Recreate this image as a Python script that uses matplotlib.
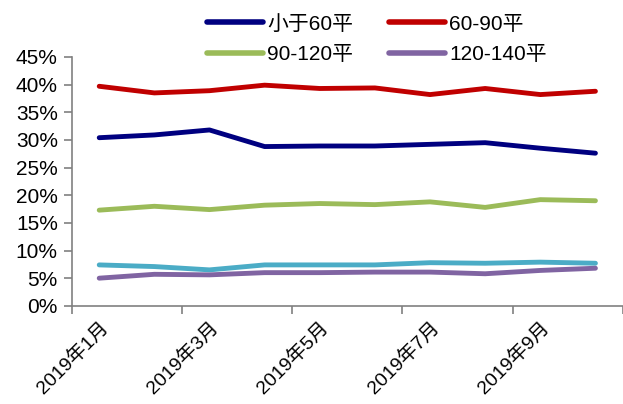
import matplotlib.pyplot as plt
from matplotlib.ticker import FixedLocator, FuncFormatter

plt.rcParams['font.family'] = ['Liberation Sans', 'Noto Sans CJK SC', 'DejaVu Sans']

months = ['2019年1月', '2019年2月', '2019年3月', '2019年4月', '2019年5月',
          '2019年6月', '2019年7月', '2019年8月', '2019年9月', '2019年10月']

below_60 = [30.4, 30.9, 31.8, 28.8, 28.9, 28.9, 29.2, 29.5, 28.5, 27.6]
from_60_90 = [39.7, 38.5, 38.9, 39.9, 39.3, 39.4, 38.2, 39.3, 38.2, 38.8]
from_90_120 = [17.3, 18.0, 17.4, 18.2, 18.5, 18.3, 18.8, 17.8, 19.2, 19.0]
from_120_140 = [5.0, 5.7, 5.6, 6.0, 6.0, 6.1, 6.1, 5.8, 6.4, 6.8]
above_140 = [7.4, 7.1, 6.5, 7.4, 7.4, 7.4, 7.8, 7.7, 7.9, 7.7]

fig = plt.figure(figsize=(6.23, 4.04), dpi=100)
ax = fig.add_axes([0.115, 0.243, 0.885, 0.616])

x = range(len(months))
lw = 3.5
l1, = ax.plot(x, below_60, color='#000080', lw=lw, label='小于60平', solid_capstyle='round')
l2, = ax.plot(x, from_60_90, color='#C00000', lw=lw, label='60-90平', solid_capstyle='round')
l3, = ax.plot(x, from_90_120, color='#9BBB59', lw=lw, label='90-120平', solid_capstyle='round')
l5, = ax.plot(x, above_140, color='#4BACC6', lw=lw, label='140平以上', solid_capstyle='round')
l4, = ax.plot(x, from_120_140, color='#8064A2', lw=lw, label='120-140平', solid_capstyle='round')

ax.set_xlim(-0.5, len(months) - 0.5)
ax.set_ylim(0, 45)
ax.set_yticks(range(0, 50, 5))
ax.yaxis.set_major_formatter(FuncFormatter(lambda v, _: f'{v:.0f}%'))

# boundary ticks every two months, labels at the month centres
ax.xaxis.set_major_locator(FixedLocator([-0.5, 1.5, 3.5, 5.5, 7.5, 9.5]))
ax.xaxis.set_major_formatter(FuncFormatter(lambda v, _: ''))
ax.xaxis.set_minor_locator(FixedLocator([0, 2, 4, 6, 8]))
ax.set_xticklabels([months[i] for i in (0, 2, 4, 6, 8)], minor=True,
                   rotation=45, ha='right', rotation_mode='anchor')
ax.tick_params(axis='x', which='minor', length=0, pad=9, labelsize=14)
ax.tick_params(axis='x', which='major', length=6, color='#808080', width=1.2)
ax.tick_params(axis='y', length=6, color='#808080', width=1.2, labelsize=15, pad=4)

for side in ('top', 'right'):
    ax.spines[side].set_visible(False)
for side in ('left', 'bottom'):
    ax.spines[side].set_color('#808080')
    ax.spines[side].set_linewidth(1.2)

# legend filled column-wise, so order handles to read row by row
fig.legend(handles=[l1, l3, l2, l4], ncol=2, loc='upper left',
           bbox_to_anchor=(0.302, 1.01), frameon=False, fontsize=15,
           handlelength=2.7, handletextpad=0.2, columnspacing=1.7,
           labelspacing=0.54)
for h in fig.legends[0].get_lines():
    h.set_linewidth(4)

fig.savefig('out.png', dpi=100)
